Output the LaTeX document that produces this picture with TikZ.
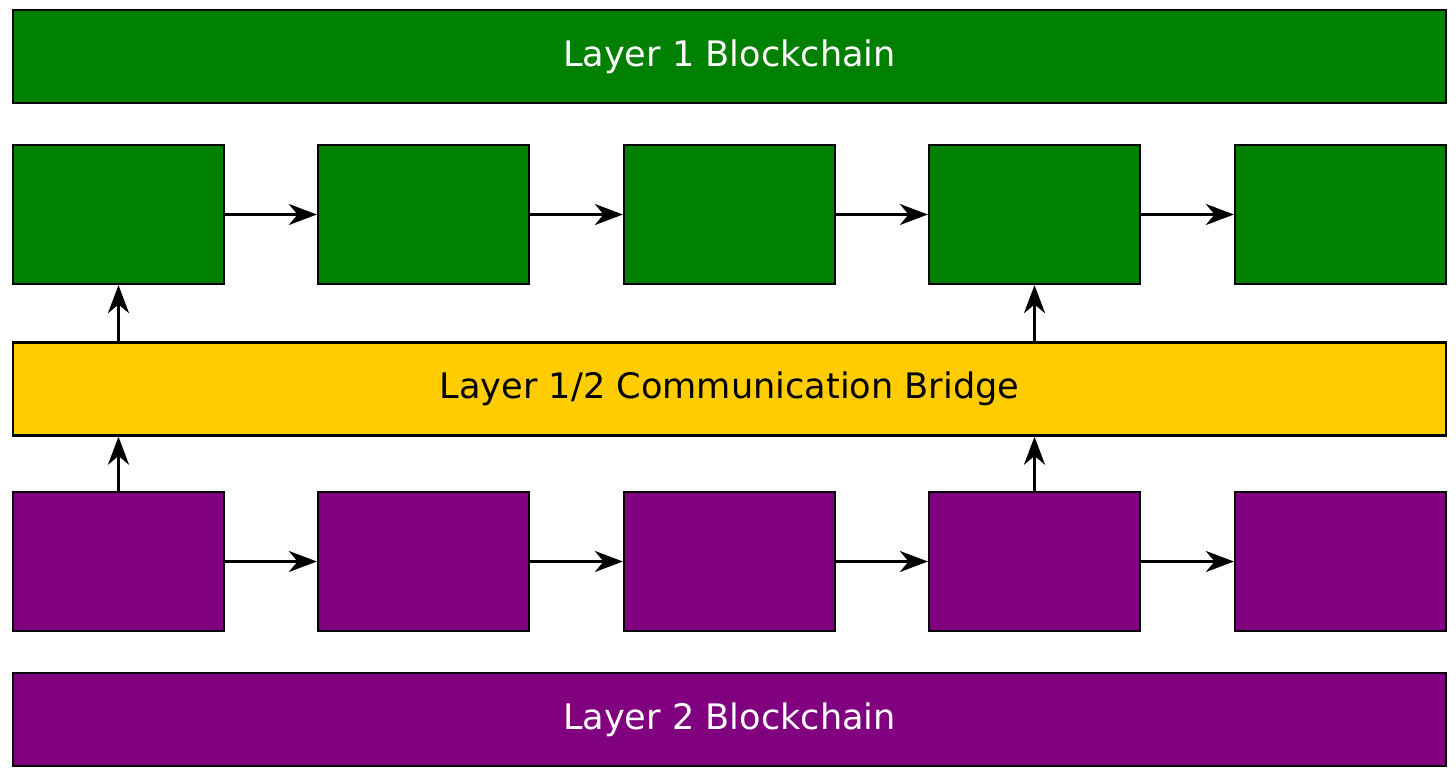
\documentclass[tikz,border=0pt]{standalone}
\usepackage{fontspec}
\setmainfont{DejaVu Sans}
\usetikzlibrary{arrows.meta,positioning}
\definecolor{chaingreen}{RGB}{0,128,0}
\definecolor{chainpurple}{RGB}{128,0,128}
\definecolor{bridgeyellow}{RGB}{255,204,0}
\begin{document}
\begin{tikzpicture}[x=0.02cm,y=-0.02cm,>={Stealth[length=16pt,width=12pt,inset=5pt]},
                    line width=1.3pt,
                    font=\fontsize{20}{24}\selectfont]
  \tikzstyle{bar}=[rectangle,draw=black,minimum width=28.66cm,minimum height=1.86cm,inner sep=0pt]
  \tikzstyle{block}=[rectangle,draw=black,minimum width=4.22cm,minimum height=2.78cm,inner sep=0pt]
  \useasboundingbox (0,0) rectangle (1456,782);

  \node[bar,fill=chaingreen,text=white] (L1) at (729.5,56.5) {Layer 1 Blockchain};
  \node[bar,fill=bridgeyellow] (BR) at (729.5,389) {Layer 1/2 Communication Bridge};
  \node[bar,fill=chainpurple,text=white] (L2) at (729.5,719.5) {Layer 2 Blockchain};

  \foreach \i/\x in {1/118.5,2/423.5,3/729.5,4/1034.5,5/1340.5}{
    \node[block,fill=chaingreen] (G\i) at (\x,214.5) {};
    \node[block,fill=chainpurple] (P\i) at (\x,561.5) {};
  }

  \foreach \a/\b in {1/2,2/3,3/4,4/5}{
    \draw[->] (G\a) -- (G\b);
    \draw[->] (P\a) -- (P\b);
  }
  \draw[->] (P1.north) -- (P1.north |- BR.south);
  \draw[->] (P4.north) -- (P4.north |- BR.south);
  \draw[->] (G1.south |- BR.north) -- (G1.south);
  \draw[->] (G4.south |- BR.north) -- (G4.south);
\end{tikzpicture}
\end{document}
